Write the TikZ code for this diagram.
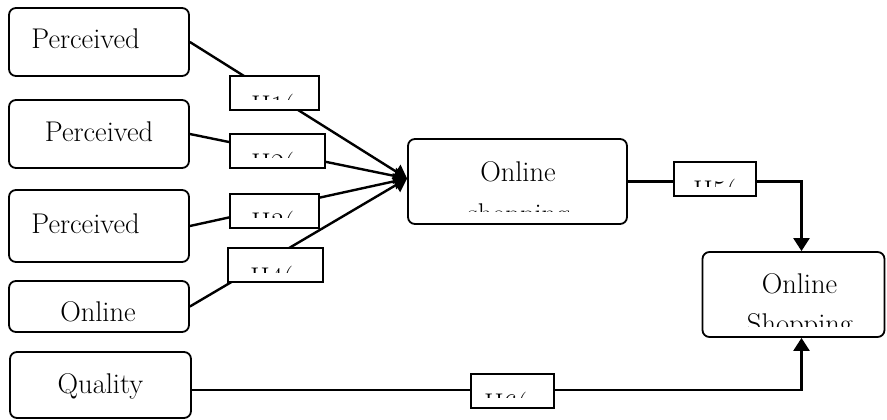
\documentclass[tikz,border=0pt]{standalone}
\usetikzlibrary{arrows.meta}

\tikzset{
  box/.style={draw,line width=1.8pt,rounded corners=7pt,inner sep=0pt},
  hbox/.style={draw,line width=1.8pt,fill=white,inner sep=0pt,minimum height=34pt},
  txt/.style={font=\fontsize{28.5}{33}\selectfont,anchor=base,inner sep=0pt},
  link/.style={line width=2.4pt,-{Triangle[length=13pt,width=16pt]}}
}

\begin{document}
\begin{tikzpicture}[x=1pt,y=-1pt]
\useasboundingbox (0,0) rectangle (887,420);

% construct boxes
\node[box,minimum width=180pt,minimum height=68pt] (p1) at (99,42) {};
\node[box,minimum width=180pt,minimum height=68pt] (p2) at (99,134) {};
\node[box,minimum width=180pt,minimum height=72pt] (p3) at (99,226) {};
\node[box,minimum width=180pt,minimum height=51pt] (onl) at (99,306.5) {};
\node[box,minimum width=181pt,minimum height=66pt] (qual) at (100.5,385) {};
\node[box,minimum width=219pt,minimum height=85pt] (mid) at (517.5,181.5) {};
\node[box,minimum width=182pt,minimum height=85pt] (tgt) at (793.5,294.5) {};

\node[txt] (p1-t) at (85.5,49) {Perceived};
\node[txt] (p2-t) at (99,142) {Perceived};
\node[txt] (p3-t) at (85.5,233) {Perceived};
\node[txt] (onl-t) at (98,321) {Online};
\node[txt] (qual-t) at (100.5,393) {Quality};
\node[txt] (mid-t) at (518,181) {Online};
\node[txt] (tgt-t) at (799.5,293) {Online};
\begin{scope}
  \clip (410,195) rectangle (625,211);
  \node[txt] (mid-t2) at (518.5,223) {shopping};
\end{scope}
\begin{scope}
  \clip (704,300) rectangle (883,326);
  \node[txt] (tgt-t2) at (800,333) {Shopping};
\end{scope}

% paths
\foreach \a in {p1,p2,p3,onl}
  \draw[link] (\a.east) -- ([yshift=3pt]mid.west);
\draw[link] (mid.east) -| ([xshift=8pt]tgt.north);
\draw[link] ([yshift=-5pt]qual.east) -| ([xshift=8pt]tgt.south);

% hypothesis labels
\foreach \n/\cx/\cy/\w/\tx/\ty/\cl in {1/274.5/93/89/251/115/100, 2/277.5/151/95/251/173/157,
    3/274.5/211/89/251/232/217, 4/275.5/265/95/250/287/272,
    5/715/179/82/693/200/186, 6/512.5/391/83/484/413/397} {
  \node[hbox,minimum width=\w pt] (h\n) at (\cx,\cy) {};
  \begin{scope}
    \clip (\tx-2,\cy-15) rectangle (\tx+45,\cl);
    \node[txt,anchor=base west] (h\n-t) at (\tx,\ty) {H\n(+)};
  \end{scope}
}
\end{tikzpicture}
\end{document}
